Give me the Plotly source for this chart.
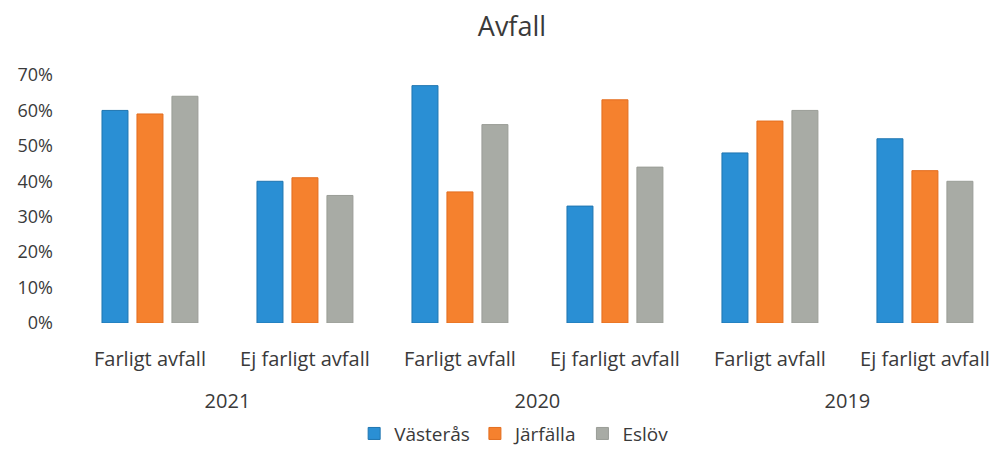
import plotly.graph_objects as go

years = ["2021", "2020", "2019"]
categories = ["Farligt avfall", "Ej farligt avfall"] * 3
vasteras = [0.60, 0.40, 0.67, 0.33, 0.48, 0.52]
jarfalla = [0.59, 0.41, 0.37, 0.63, 0.57, 0.43]
eslov = [0.64, 0.36, 0.56, 0.44, 0.60, 0.40]
series_names = ["Västerås", "Järfälla", "Eslöv"]
y_ticks = [0, 0.1, 0.2, 0.3, 0.4, 0.5, 0.6, 0.7]

FONT = "Open Sans"
TXT = "#3a3a3a"
colors = ["#2a8fd4", "#f5812e", "#a8aba5"]
outlines = ["#1f75b0", "#e36d1e", "#9a9d97"]

cat_pos = list(range(len(categories)))
year_pos = [i * 2 + 0.5 for i in range(len(years))]
x_range = [-0.503, 5.465]

fig = go.Figure()
for name, vals, c, oc in zip(series_names, [vasteras, jarfalla, eslov], colors, outlines):
    fig.add_trace(go.Bar(
        x=cat_pos, y=vals, name=name,
        marker=dict(color=c, line=dict(color=oc, width=1)),
    ))
# invisible helper trace so the year axis is drawn
fig.add_trace(go.Scatter(x=year_pos, y=[None] * len(years), xaxis="x2", yaxis="y",
                         mode="markers", showlegend=False, hoverinfo="skip"))

fig.update_layout(
    width=997, height=453,
    margin=dict(l=72, r=0, t=75, b=122),
    paper_bgcolor="white", plot_bgcolor="white",
    barmode="group", bargap=0.323, bargroupgap=0.257,
    title=dict(text="Avfall", x=0.5135, xanchor="center", y=0.942, yanchor="middle",
               font=dict(family=FONT, size=27, color=TXT)),
    font=dict(family=FONT, color=TXT),
    legend=dict(orientation="h", x=0.478, xanchor="center", y=-0.446, yanchor="middle",
                font=dict(family=FONT, size=19, color=TXT),
                itemwidth=30, traceorder="normal"),
    showlegend=True,
    xaxis=dict(range=x_range, tickvals=cat_pos, ticktext=categories, showgrid=False,
               showline=False, zeroline=False, ticks="", automargin=False,
               ticklabeloverflow="allow",
               ticklabelstandoff=22, tickfont=dict(family=FONT, size=20, color=TXT)),
    xaxis2=dict(range=x_range, overlaying="x", anchor="y", side="bottom",
                tickvals=year_pos, ticktext=years, showgrid=False, showline=False,
                zeroline=False, ticks="", automargin=False, ticklabelstandoff=64,
                ticklabeloverflow="allow",
                tickfont=dict(family=FONT, size=20, color=TXT)),
    yaxis=dict(range=[0, 0.7], tickvals=y_ticks, tickformat=".0%", showgrid=False,
               showline=False, zeroline=False, ticks="", automargin=False,
               ticklabelstandoff=18, tickfont=dict(family=FONT, size=18, color=TXT)),
)

fig.write_html(
    "out.html",
    config={"displayModeBar": False},
    post_script="document.body.style.margin='0px';document.body.style.overflow='hidden';",
)
